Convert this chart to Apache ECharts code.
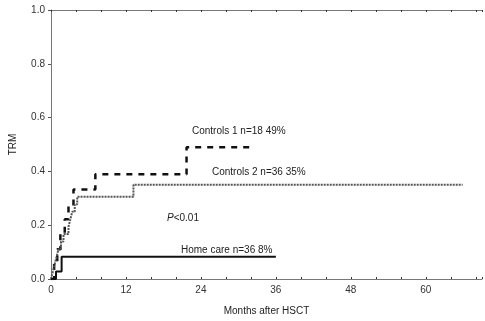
<!DOCTYPE html>
<html>
<head>
<meta charset="utf-8">
<script src="https://cdn.jsdelivr.net/npm/echarts@6/dist/echarts.min.js"></script>
<style>
  html, body { margin: 0; padding: 0; background: #fff; }
  #chart { width: 485px; height: 321px; }
</style>
</head>
<body>
<div id="chart"></div>
<script>
// Kaplan-Meier style step data: [months, TRM]
var controls1 = [[0, 0], [0.5, 0.056], [1, 0.111], [1.5, 0.167], [2.2, 0.222], [2.8, 0.278],
  [3.6, 0.333], [7.1, 0.389], [21.7, 0.49], [32.5, 0.49]];
var controls2 = [[0, 0], [0.3, 0.028], [0.6, 0.056], [0.9, 0.083], [1.2, 0.111], [1.6, 0.139],
  [2, 0.167], [2.8, 0.194], [3.1, 0.222], [3.4, 0.25], [3.8, 0.278], [4.2, 0.306],
  [13.2, 0.35], [65.9, 0.35]];
var homeCare = [[0, 0], [0.8, 0.028], [1.7, 0.083], [36, 0.083]];
var xLabels = [0, 12, 24, 36, 48, 60];
var yLabels = [0, 0.2, 0.4, 0.6, 0.8, 1.0];

var font = 'Liberation Sans';
var chart = echarts.init(document.getElementById('chart'));

var axisCommon = {
  type: 'value',
  min: 0,
  max: 69,
  interval: 4,
  axisLine: { lineStyle: { color: '#777', width: 1 } },
  axisTick: { inside: true, length: 2, lineStyle: { color: '#333' } },
  splitLine: { show: false }
};

chart.setOption({
  animation: false,
  grid: { left: 50, right: 2, top: 10, bottom: 36 },
  xAxis: [
    Object.assign({}, axisCommon, {
      position: 'bottom',
      name: 'Months after HSCT',
      nameLocation: 'middle',
      nameGap: 27,
      nameTextStyle: { fontFamily: font, fontSize: 10, color: '#222' },
      axisLabel: {
        fontFamily: font, fontSize: 10, color: '#333', margin: 6,
        formatter: function (v) { return xLabels.indexOf(v) >= 0 ? String(v) : ''; }
      }
    }),
    Object.assign({}, axisCommon, {
      position: 'top',
      axisLabel: { show: false }
    })
  ],
  yAxis: {
    type: 'value',
    min: 0,
    max: 1,
    interval: 0.2,
    name: 'TRM',
    nameLocation: 'middle',
    nameGap: 33,
    nameRotate: 90,
    nameTextStyle: { fontFamily: font, fontSize: 10, color: '#222' },
    axisLine: { show: true, lineStyle: { color: '#777', width: 1 } },
    axisTick: { show: true, length: 3, lineStyle: { color: '#555' } },
    splitLine: { show: false },
    axisLabel: {
      fontFamily: font, fontSize: 10, color: '#333', margin: 6,
      formatter: function (v) { return v.toFixed(1); }
    }
  },
  graphic: [
    { type: 'text', left: 192, top: 126, style: { text: 'Controls 1 n=18 49%', font: '10px "Liberation Sans"', fill: '#222' } },
    { type: 'text', left: 212, top: 167, style: { text: 'Controls 2 n=36 35%', font: '10px "Liberation Sans"', fill: '#222' } },
    { type: 'text', left: 167, top: 213, style: { text: '{i|P}<0.01', font: '10px "Liberation Sans"', fill: '#222',
        rich: { i: { fontStyle: 'italic', fontFamily: font, fontSize: 10, fill: '#222' } } } },
    { type: 'text', left: 181, top: 245, style: { text: 'Home care n=36 8%', font: '10px "Liberation Sans"', fill: '#222' } }
  ],
  series: [
    {
      name: 'Controls 1', type: 'line', step: 'end', symbol: 'none',
      data: controls1,
      lineStyle: { color: '#111', width: 2.5, type: [6, 6] }
    },
    {
      name: 'Controls 2', type: 'line', step: 'end', symbol: 'none',
      data: controls2,
      lineStyle: { color: '#555', width: 2, type: [2, 1] }
    },
    {
      name: 'Home care', type: 'line', step: 'end', symbol: 'none',
      data: homeCare,
      lineStyle: { color: '#111', width: 2 }
    }
  ]
});
</script>
</body>
</html>
